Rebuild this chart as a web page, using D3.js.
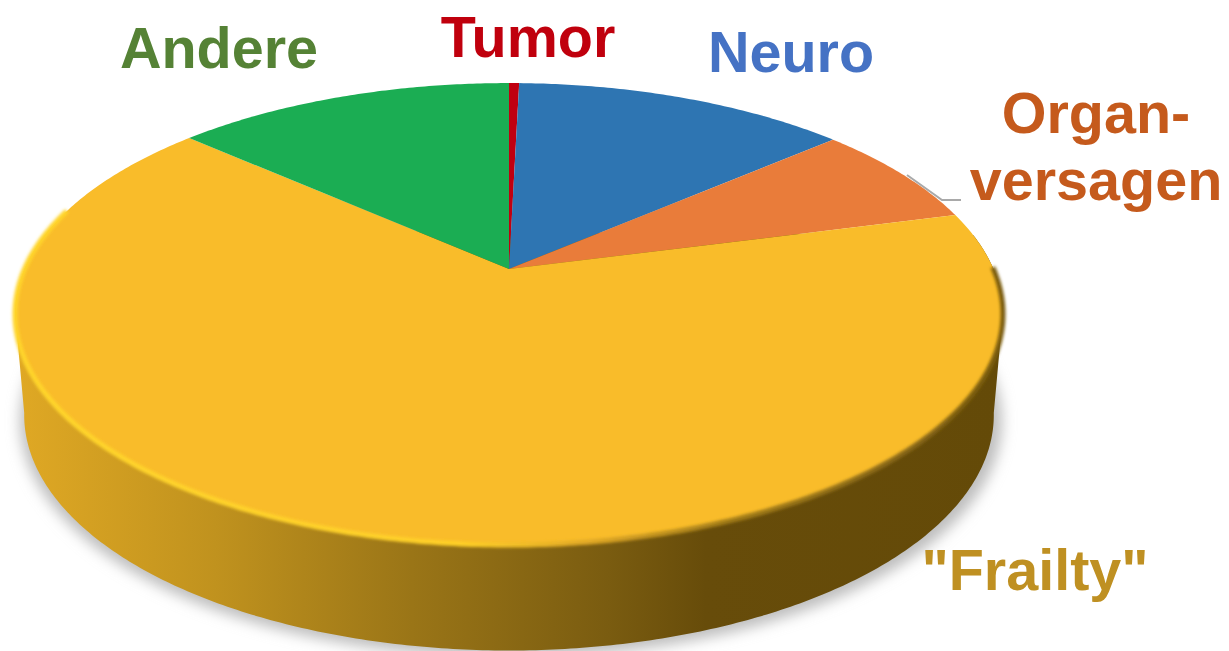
<!DOCTYPE html>
<html>
<head>
<meta charset="utf-8">
<script src="https://cdn.jsdelivr.net/npm/d3@7"></script>
<style>
  html, body { margin: 0; padding: 0; background: #fff; }
  svg { display: block; }
  text { font-family: "Liberation Sans", Arial, sans-serif; font-weight: bold; font-size: 57.5px; }
</style>
</head>
<body>
<svg id="chart"></svg>
<script>
const categories = ['Tumor', 'Neuro', 'Organversagen', 'Frailty', 'Andere']
const shares = [0.4, 13.2, 7.3, 65.7, 13.4]
const sliceColors = ['#c00010', '#2e75b2', '#e97c3a', '#f9bc2a', '#1bad53']

const labelLines = [['Tumor'], ['Neuro'], ['Organ-', 'versagen'], ['"Frailty"'], ['Andere']]
const labelColors = ['#c00010', '#4472c4', '#c55a1e', '#bf9020', '#548235']

const width = 1229
const height = 651

// tilted disc: top face and the smaller looking bottom face
const topFace = { cx: 509, cy: 269, a: 484.5, b: 222.2, k: 0.195 }
const bottomFace = { cx: 509, cy: 369, a: 475.5, b: 226.6, k: 0.195 }

function project(angle, face) {
  const u = Math.sin(angle)
  const v = Math.cos(angle)
  const w = 1 + face.k * v
  return [face.cx + face.a * u / w, face.cy - face.b * v / w]
}

function arcPoints(start, end, face) {
  const n = Math.max(2, Math.ceil(Math.abs(end - start) / 0.01))
  return d3.range(n + 1).map(i => project(start + (end - start) * i / n, face))
}

const line = d3.line()
const pie = d3.pie().sort(null).value(d => d)
const slices = pie(shares)

const svg = d3.select('#chart')
  .attr('width', width)
  .attr('height', height)
  .attr('viewBox', `0 0 ${width} ${height}`)

const defs = svg.append('defs')

const wallGrad = defs.append('linearGradient')
  .attr('id', 'wall')
  .attr('gradientUnits', 'userSpaceOnUse')
  .attr('x1', 20).attr('x2', 1000).attr('y1', 0).attr('y2', 0)
wallGrad.selectAll('stop')
  .data([[0, '#dfa824'], [0.2, '#c0921e'], [0.4, '#9a7517'], [0.6, '#7a5c10'], [0.7, '#674c0a'], [1, '#644a08']])
  .enter().append('stop')
  .attr('offset', d => d[0])
  .attr('stop-color', d => d[1])

const rimGrad = defs.append('linearGradient')
  .attr('id', 'rim')
  .attr('gradientUnits', 'userSpaceOnUse')
  .attr('x1', 15).attr('x2', 1003).attr('y1', 0).attr('y2', 0)
rimGrad.selectAll('stop')
  .data([[0, '#ffd52c'], [0.45, '#ffd028'], [0.58, '#e0a825'], [0.72, '#a37d18'], [1, '#7a5c10']])
  .enter().append('stop')
  .attr('offset', d => d[0])
  .attr('stop-color', d => d[1])

defs.append('filter').attr('id', 'shadowBlur')
  .attr('x', '-10%').attr('y', '-10%').attr('width', '120%').attr('height', '120%')
  .append('feGaussianBlur').attr('stdDeviation', 7)
defs.append('filter').attr('id', 'rimBlur')
  .attr('x', '-5%').attr('y', '-5%').attr('width', '110%').attr('height', '110%')
  .append('feGaussianBlur').attr('stdDeviation', 1.6)
defs.append('filter').attr('id', 'textBlur')
  .attr('x', '-5%').attr('y', '-10%').attr('width', '110%').attr('height', '120%')
  .append('feGaussianBlur').attr('stdDeviation', 0.5)

const fullTop = arcPoints(0, 2 * Math.PI, topFace)
const fullBottom = arcPoints(0, 2 * Math.PI, bottomFace)

defs.append('clipPath').attr('id', 'solid')
  .append('path')
  .attr('d', line(d3.merge([arcPoints(Math.PI * 0.45, Math.PI * 1.55, bottomFace), arcPoints(Math.PI * 1.55, Math.PI * 2.45, topFace)])) + 'Z')

// soft shadow on the ground
svg.append('path')
  .attr('d', line(fullBottom.map(p => [p[0] + (p[0] > 509 ? 8 : -4), p[1] + 6])) + 'Z')
  .attr('fill', '#bdbdbd')
  .attr('filter', 'url(#shadowBlur)')

// side wall, from the widest point on the right round the front to the left
svg.append('path')
  .attr('d', line(d3.merge([
    arcPoints(Math.PI * 0.45, Math.PI * 0.56, topFace),
    arcPoints(Math.PI * 0.56, Math.PI * 1.44, bottomFace),
    arcPoints(Math.PI * 1.44, Math.PI * 1.56, topFace)
  ])) + 'Z')
  .attr('fill', 'url(#wall)')

svg.append('g').selectAll('path')
  .data(slices)
  .enter().append('path')
  .attr('class', 'slice')
  .attr('fill', (d, i) => sliceColors[i])
  .attr('d', d => line([[topFace.cx, topFace.cy]].concat(arcPoints(d.startAngle, d.endAngle, topFace))) + 'Z')

// bevel along the front edge of the big slice
const frailty = slices[categories.indexOf('Frailty')]
svg.append('path')
  .attr('d', line(arcPoints(frailty.startAngle + 0.25, frailty.endAngle - 0.45, topFace)))
  .attr('fill', 'none')
  .attr('stroke', 'url(#rim)')
  .attr('stroke-width', 5)
  .attr('filter', 'url(#rimBlur)')

// leader for the small orange slice
svg.append('path')
  .attr('d', line([[907, 175], [942, 200], [961, 200]]))
  .attr('fill', 'none')
  .attr('stroke', '#a9a9a9')
  .attr('stroke-width', 2)

const labelPos = [[528, 57], [791, 72], [1096, 133], [1035, 590], [219, 68]]
const lineStep = 67

const labels = svg.append('g').attr('filter', 'url(#textBlur)')
labelLines.forEach((rows, i) => {
  rows.forEach((row, j) => {
    labels.append('text')
      .attr('x', labelPos[i][0])
      .attr('y', labelPos[i][1] + j * lineStep)
      .attr('text-anchor', 'middle')
      .attr('fill', labelColors[i])
      .text(row)
  })
})
</script>
</body>
</html>
